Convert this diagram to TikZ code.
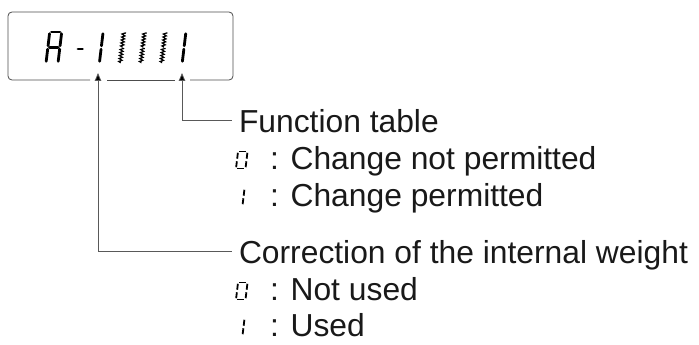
\documentclass[tikz,border=0pt]{standalone}
\usepackage{fontspec}
\setmainfont{Liberation Sans}
\usetikzlibrary{arrows.meta,decorations.pathmorphing}
\tikzset{
    % one stroke of a slanted seven-segment digit
    seg/.style={line width=2.8pt, line cap=round, shorten <=1.7pt, shorten >=1.7pt},
    seg thin/.style={line width=1.8pt, shorten <=1.3pt, shorten >=1.3pt},
    seg blink/.style={line width=1.2pt, shorten <=2.5pt, shorten >=2.5pt,
        decorate, decoration={zigzag, amplitude=1.6pt, segment length=3pt}},
    seg a/.style={insert path={(0,1)--(1,1)}},
    seg b/.style={insert path={(1,1)--(1,.5)}},
    seg c/.style={insert path={(1,.5)--(1,0)}},
    seg d/.style={insert path={(0,0)--(1,0)}},
    seg e/.style={insert path={(0,.5)--(0,0)}},
    seg f/.style={insert path={(0,1)--(0,.5)}},
    seg g/.style={insert path={(0,.5)--(1,.5)}},
    panel/.style={draw=black!70, line width=.8pt},
    conn/.style={draw=black!65, line width=.8pt},
    arrowup/.style={arrows={Triangle[length=8pt,width=6.5pt,fill=black]-}},
    txt/.style={anchor=base west, inner sep=0pt, outer xsep=7pt,
        text height=22.5pt, text depth=0pt, text=black!90,
        font=\fontsize{31.8}{32}\selectfont}
}
% origin (bottom left), width, height, stroke style, segments
\newcommand\segdigit[5]{%
    \begin{scope}[shift={#1}, x={(#2pt,0pt)}, y={(0.12*#3pt,#3pt)}]
        \foreach \s in {#5} {\draw[#4, seg \s];}
    \end{scope}}

\begin{document}
\begin{tikzpicture}[x=1pt,y=-1pt]
\useasboundingbox (0,0) rectangle (699,345);

% display window, open where the two arrows pass
\draw[panel, rounded corners=4pt] (90,80) -- (8,80) -- (8,12) -- (233,12) -- (233,80) -- (190,80);
\draw[panel] (107,80) -- (175,80);

% A - 1 1 1 1 1
\segdigit{(46,63)}{12}{31}{seg}{a,b,c,e,f,g}
\draw[seg, shorten <=0pt, shorten >=0pt] (78,49) -- (82.5,49);
\segdigit{(87.4,63)}{12}{31}{seg}{b,c}
\foreach \k in {3,4,5} {
    \segdigit{(46+20.7*\k,63)}{12}{31}{seg blink}{b,c}
}
\segdigit{(170.2,63)}{12}{31}{seg}{b,c}

\coordinate (tipL) at (98,73);
\coordinate (tipR) at (182,73);

% explanations
\node[txt] (func) at (232,132) {Function table};
\node[txt] (func0) at (263,169) {: Change not permitted};
\node[txt] (func1) at (263,206) {: Change permitted};
\node[txt] (corr) at (232,263) {Correction of the internal weight};
\node[txt] (corr0) at (263,300) {: Not used};
\node[txt] (corr1) at (263,336) {: Used};

\segdigit{(236,168.5)}{9.5}{17}{seg thin}{a,b,c,d,e,f}
\segdigit{(233,205.5)}{9.5}{17}{seg thin}{b,c}
\segdigit{(236,299.5)}{9.5}{17}{seg thin}{a,b,c,d,e,f}
\segdigit{(233,335.5)}{9.5}{17}{seg thin}{b,c}

\draw[conn, arrowup] (tipR) |- (func.west);
\draw[conn, arrowup] (tipL) |- (corr.west);

\end{tikzpicture}
\end{document}
